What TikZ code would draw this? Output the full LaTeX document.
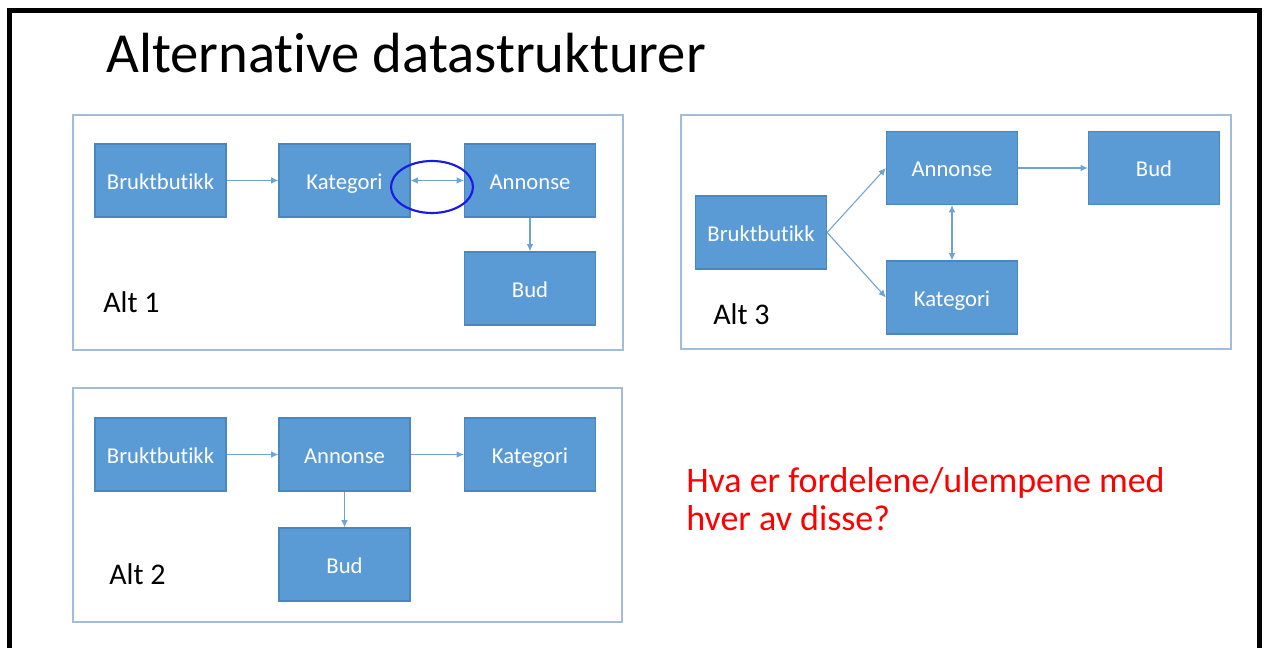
\documentclass[tikz,border=0pt]{standalone}
\usepackage{fontspec}
\setmainfont[Ligatures={NoCommon,NoDiscretionary}]{Carlito}
\usetikzlibrary{arrows.meta}
\definecolor{boxblue}{HTML}{5B9BD5}
\definecolor{boxedge}{HTML}{4A86C0}
\definecolor{panelc}{HTML}{A3BCDA}
\definecolor{arrowc}{HTML}{6FA3D6}
\definecolor{circ}{HTML}{1A1AE6}
\tikzset{
  ent/.style={draw=boxedge, line width=0.9pt, fill=boxblue, text=white, minimum width=98.25pt, minimum height=54.75pt, inner sep=0pt, text height=13.5pt, text depth=0pt, font=\fontsize{17}{20}\selectfont},
  panel/.style={draw=panelc, line width=1.1pt},
  conn/.style={draw=arrowc, line width=0.8pt, -{Latex[length=5.5pt,width=5pt]}},
  bconn/.style={draw=arrowc, line width=0.8pt, {Latex[length=5.5pt,width=5pt]}-{Latex[length=5.5pt,width=5pt]}},
  altlabel/.style={anchor=base west, inner sep=0pt, font=\fontsize{22.5}{26}\selectfont}
}
\begin{document}
\begin{tikzpicture}[x=0.75pt,y=-0.75pt]
\useasboundingbox (0,0) rectangle (1264,648);
\fill[white] (0,0) rectangle (1264,648);
% outer frame
\draw[line width=3.8pt] (9.5,648) -- (9.5,10.5) -- (1259.5,10.5) -- (1259.5,648);
% title
\node[anchor=base west, inner sep=0pt, font=\fontsize{42.5}{48}\selectfont] (title) at (106,73) {Alternative datastrukturer};
% panels
\draw[panel] (73,115) rectangle (623,350);
\draw[panel] (73,388) rectangle (622,622);
\draw[panel] (681,115) rectangle (1231,349);
% Alt 1
\node[ent] (a1b) at (160.5,180.5) {Bruktbutikk};
\node[ent] (a1k) at (344.5,180.5) {Kategori};
\node[ent] (a1a) at (530,180.5) {Annonse};
\node[ent] (a1d) at (530,288.5) {Bud};
\draw[conn] (a1b) -- (a1k);
\draw[bconn] (a1k) -- (a1a);
\draw[conn] (a1a) -- (a1d);
\node[altlabel] (l1) at (103,313) {Alt 1};
\draw[circ, line width=1.6pt] (432,187) ellipse (41 and 26);
% Alt 2
\node[ent] (a2b) at (160.5,454.5) {Bruktbutikk};
\node[ent] (a2a) at (344.5,454.5) {Annonse};
\node[ent] (a2k) at (530,454.5) {Kategori};
\node[ent] (a2d) at (344.5,564.5) {Bud};
\draw[conn] (a2b) -- (a2a);
\draw[conn] (a2a) -- (a2k);
\draw[conn] (a2a) -- (a2d);
\node[altlabel] (l2) at (109,584) {Alt 2};
% Alt 3
\node[ent] (a3b) at (761,232.5) {Bruktbutikk};
\node[ent] (a3a) at (952,168) {Annonse};
\node[ent] (a3d) at (1154,168) {Bud};
\node[ent] (a3k) at (952,297.5) {Kategori};
\draw[conn] (a3b.east) -- (a3a.west);
\draw[conn] (a3b.east) -- (a3k.west);
\draw[bconn] (a3a) -- (a3k);
\draw[conn] (a3a) -- (a3d);
\node[altlabel] (l3) at (713,325) {Alt 3};
% question
\node[anchor=base west, inner sep=0pt, align=left, text=red, font=\fontsize{27}{28}\selectfont] (q) at (686,530) {Hva er fordelene/ulempene med\\hver av disse?};
\end{tikzpicture}
\end{document}
